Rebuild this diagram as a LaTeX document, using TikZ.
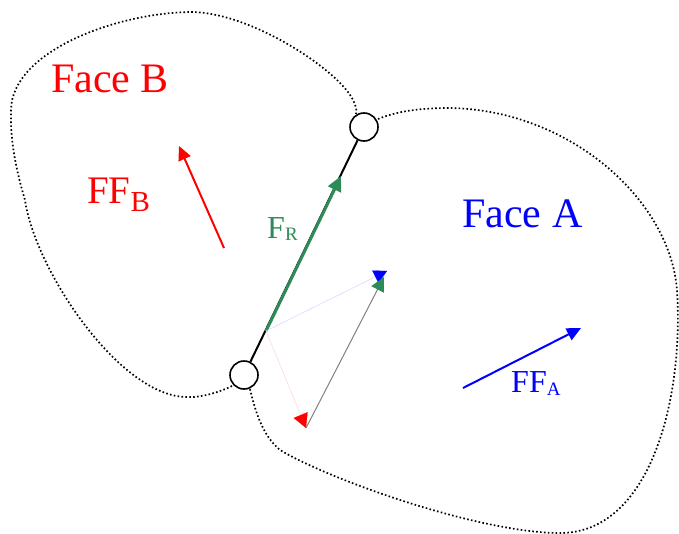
\documentclass[tikz,border=0pt]{standalone}
\usepackage{fontspec}
\setmainfont{Liberation Serif}
\usetikzlibrary{arrows.meta,calc}
\definecolor{frgreen}{RGB}{46,139,87}
\newcommand{\mysub}[3]{\raisebox{-#2}{\fontsize{#1}{#1}\selectfont #3}}
\begin{document}
\begin{tikzpicture}[x=1pt,y=-1pt,
  outline/.style={line width=1.7pt, dash pattern=on 1.6pt off 2.3pt},
  vertex/.style={circle, draw, line width=1.6pt, minimum size=28pt, inner sep=0pt, fill=white},
  lbl/.style={anchor=base west, inner sep=0pt, font=#1},
  tipbig/.style={-{Triangle[length=14pt,width=13pt]}}]
\useasboundingbox (0,0) rectangle (679,533);
% Face B outline
\draw[outline] (232,386) .. controls (220,392) and (200,398) .. (187,397)
  .. controls (120,397) and (35,270) .. (25,200)
  .. controls (16,170) and (10,140) .. (11,110)
  .. controls (12,50) and (120,12) .. (193,12)
  .. controls (255,14) and (340,72) .. (353,100)
  .. controls (356,106) and (357,110) .. (356,114);
% Face A outline
\draw[outline] (378,119) .. controls (400,110) and (425,108) .. (450,108)
  .. controls (570,110) and (670,200) .. (677,290)
  .. controls (684,400) and (650,533) .. (560,533)
  .. controls (480,533) and (330,480) .. (280,450)
  .. controls (262,435) and (255,410) .. (250,389);
% vertices
\node[vertex] (tc) at (364,127) {};
\node[vertex] (lc) at (244,375) {};
\draw[line width=2pt] (lc) -- (tc);
\coordinate (J) at (266,331);
\coordinate (G) at (341,176);
\coordinate (Bt) at (387,271);
\coordinate (Rt) at (306,428);
\coordinate (Gt) at (384,277);
% resultant
\draw[frgreen, line width=3pt, -{Triangle[length=15pt,width=14pt]}] (J) -- (G);
% decomposition
\draw[blue!15, line width=0.6pt] (J) -- (Bt);
\draw[blue, line width=0.1pt, -{Triangle[length=13pt,width=14pt]}] ($(Bt)!12pt!(J)$) -- (Bt);
\draw[red!15, line width=0.6pt] (J) -- (Rt);
\draw[red, line width=0.1pt, -{Triangle[length=14pt,width=15pt]}] ($(Rt)!12pt!(J)$) -- (Rt);
\draw[gray, line width=1pt, -{Triangle[length=14pt,width=14pt,fill=frgreen,color=frgreen]}] (Rt) -- (Gt);
% FF arrows
\coordinate (Bs) at (224,248);
\coordinate (Be) at (179,146);
\draw[red, line width=2pt, tipbig] (Bs) -- (Be);
\coordinate (As) at (463,388);
\coordinate (Ae) at (581,328);
\draw[blue, line width=2pt, tipbig] (As) -- (Ae);
% labels
\node[lbl={\fontsize{42}{42}\selectfont}, red] (fb) at (51,92) {Face B};
\node[lbl={\fontsize{42}{42}\selectfont}, blue] (fa) at (462,227) {Face A};
\node[lbl={\fontsize{39}{39}\selectfont}, red] (ffb) at (87,203) {FF\mysub{29}{8pt}{B}};
\node[lbl={\fontsize{32}{32}\selectfont}, frgreen] (fr) at (267,238) {F\mysub{19}{2pt}{R}};
\node[lbl={\fontsize{32}{32}\selectfont}, blue] (ffa) at (511,392) {FF\mysub{19}{3pt}{A}};
\end{tikzpicture}
\end{document}
